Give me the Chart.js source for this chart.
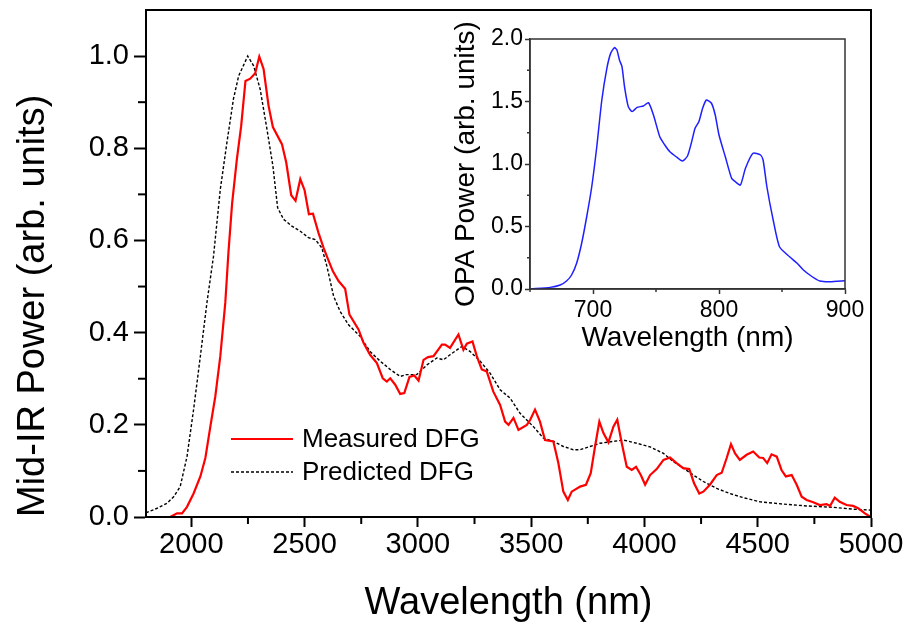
<!DOCTYPE html>
<html>
<head>
<meta charset="utf-8">
<script src="https://cdn.jsdelivr.net/npm/chart.js@4.4.0/dist/chart.umd.min.js"></script>
<style>
	body { margin: 0; background: #fff; }
	#wrap { position: relative; width: 909px; height: 625px; }
	#main { position: absolute; left: 0; top: 0; }
	#inset { position: absolute; left: 430px; top: 0; }
</style>
</head>
<body>
<div id="wrap">
	<canvas id="main" width="909" height="625"></canvas>
	<canvas id="inset" width="450" height="360"></canvas>
</div>
<script>
// measured DFG spectrum (red)
const measuredWl = [1907, 1937, 1959, 1981, 2010, 2040, 2062, 2084, 2106, 2128, 2150, 2164, 2180, 2201, 2220, 2239, 2260, 2282, 2300, 2319,
	2341, 2360, 2400, 2419, 2441, 2460, 2481, 2500, 2519, 2537, 2561, 2583, 2601, 2625, 2650, 2679, 2698, 2738, 2760, 2789,
	2819, 2845, 2863, 2878, 2900, 2922, 2940, 2963, 2984, 3003, 3025, 3045, 3069, 3106, 3120, 3142, 3179, 3201, 3216, 3241,
	3260, 3282, 3304, 3333, 3363, 3385, 3400, 3422, 3444, 3481, 3496, 3517, 3539, 3561, 3598, 3620, 3642, 3662, 3679, 3716,
	3742, 3763, 3782, 3801, 3819, 3841, 3863, 3880, 3900, 3922, 3944, 3963, 3984, 4003, 4025, 4054, 4084, 4113, 4142, 4171,
	4198, 4219, 4242, 4260, 4289, 4319, 4341, 4363, 4382, 4400, 4421, 4451, 4480, 4507, 4524, 4542, 4561, 4584, 4605, 4624,
	4650, 4672, 4694, 4716, 4745, 4774, 4804, 4819, 4840, 4862, 4892, 4921, 4943, 4973, 4995];
const measuredPower = [0.000, 0.008, 0.008, 0.022, 0.051, 0.088, 0.128, 0.196, 0.262, 0.349, 0.465, 0.575, 0.680, 0.776, 0.848, 0.946, 0.951, 0.963, 0.999, 0.972,
	0.892, 0.846, 0.809, 0.769, 0.698, 0.686, 0.733, 0.709, 0.657, 0.658, 0.617, 0.585, 0.562, 0.533, 0.512, 0.495, 0.439, 0.407, 0.378, 0.352,
	0.334, 0.301, 0.294, 0.301, 0.287, 0.267, 0.269, 0.304, 0.307, 0.296, 0.341, 0.347, 0.349, 0.374, 0.374, 0.367, 0.396, 0.363, 0.376, 0.381,
	0.349, 0.320, 0.316, 0.272, 0.243, 0.207, 0.200, 0.215, 0.189, 0.200, 0.211, 0.233, 0.207, 0.167, 0.164, 0.117, 0.055, 0.037, 0.055, 0.066,
	0.070, 0.095, 0.153, 0.207, 0.182, 0.162, 0.196, 0.211, 0.160, 0.109, 0.102, 0.109, 0.091, 0.070, 0.091, 0.104, 0.124, 0.129, 0.117, 0.106,
	0.104, 0.073, 0.051, 0.055, 0.070, 0.091, 0.096, 0.128, 0.158, 0.138, 0.124, 0.135, 0.142, 0.129, 0.128, 0.117, 0.136, 0.131, 0.102, 0.088,
	0.091, 0.070, 0.044, 0.037, 0.032, 0.026, 0.028, 0.024, 0.042, 0.033, 0.026, 0.024, 0.019, 0.008, 0.001];

// predicted DFG spectrum (black dashed)
const predictedWl = [1800, 1849, 1893, 1922, 1951, 1981, 2010, 2040, 2069, 2098, 2128, 2157, 2186, 2209, 2249, 2275, 2304, 2334, 2360, 2381,
	2407, 2444, 2481, 2517, 2547, 2576, 2598, 2628, 2657, 2694, 2745, 2789, 2834, 2878, 2922, 2951, 2995, 3040, 3084, 3113,
	3142, 3194, 3231, 3275, 3319, 3363, 3407, 3451, 3510, 3554, 3598, 3642, 3686, 3716, 3760, 3804, 3863, 3907, 3966, 4025,
	4084, 4128, 4172, 4216, 4260, 4319, 4377, 4436, 4510, 4613, 4716, 4833, 4921, 5000];
const predictedPower = [0.009, 0.019, 0.030, 0.044, 0.066, 0.131, 0.233, 0.349, 0.465, 0.566, 0.711, 0.812, 0.907, 0.957, 1.000, 0.979, 0.928, 0.841, 0.762, 0.671,
	0.646, 0.631, 0.620, 0.606, 0.602, 0.584, 0.545, 0.479, 0.446, 0.417, 0.392, 0.359, 0.338, 0.320, 0.305, 0.309, 0.309, 0.330, 0.345, 0.341,
	0.352, 0.370, 0.359, 0.338, 0.312, 0.276, 0.258, 0.225, 0.196, 0.171, 0.164, 0.153, 0.146, 0.146, 0.153, 0.160, 0.164, 0.167, 0.160, 0.152,
	0.138, 0.120, 0.106, 0.091, 0.077, 0.062, 0.051, 0.042, 0.033, 0.028, 0.024, 0.021, 0.017, 0.015];

// OPA spectrum (inset, blue)
const opaWl = [651, 666, 674, 679, 683, 687, 691, 695, 699, 703, 707, 711, 714, 717, 719, 721, 723, 725, 728, 731,
	735, 740, 744, 748, 753, 757, 761, 766, 771, 775, 778, 781, 784, 787, 790, 794, 797, 800, 805, 810,
	813, 817, 821, 827, 833, 835, 838, 843, 848, 856, 862, 867, 874, 880, 888, 900];
const opaPower = [0.002, 0.013, 0.032, 0.064, 0.112, 0.206, 0.366, 0.578, 0.818, 1.138, 1.512, 1.765, 1.885, 1.931, 1.912, 1.832, 1.779, 1.619, 1.459, 1.419,
	1.453, 1.464, 1.491, 1.392, 1.218, 1.152, 1.098, 1.058, 1.024, 1.064, 1.166, 1.286, 1.338, 1.446, 1.512, 1.486, 1.392, 1.232, 1.058, 0.886,
	0.858, 0.832, 0.966, 1.086, 1.072, 1.032, 0.818, 0.552, 0.338, 0.258, 0.206, 0.152, 0.098, 0.064, 0.058, 0.066];

// tick values (labelled majors and unlabelled minors)
const mainXMajor = [2000, 2500, 3000, 3500, 4000, 4500, 5000];
const mainXMinor = [2250, 2750, 3250, 3750, 4250, 4750];
const mainYMajor = [0, 0.2, 0.4, 0.6, 0.8, 1.0];
const mainYMinor = [0.1, 0.3, 0.5, 0.7, 0.9];
const insetXMajor = [700, 800, 900];
const insetXMinor = [650, 750, 850];
const insetYMajor = [0, 0.5, 1.0, 1.5, 2.0];
const insetYMinor = [0.25, 0.75, 1.25, 1.75];

const legendLabels = ['Measured DFG', 'Predicted DFG'];

const FONT = '"Liberation Sans", Arial, Helvetica, sans-serif';
const toPoints = (xs, ys) => xs.map((x, i) => ({x, y: ys[i]}));
const setTicks = list => scale => { scale.ticks = list.map(value => ({value})); };
const fixHeight = h => s => { s.height = h; s.paddingLeft = 0; s.paddingRight = 0; };
const fixWidth = w => s => { s.width = w; s.paddingTop = 0; s.paddingBottom = 0; };

// full box around the plot area
const framePlugin = (lineWidth, color) => ({
	id: 'frame',
	afterDraw: chart => {
		const {ctx, chartArea: a} = chart;
		ctx.save();
		ctx.strokeStyle = color;
		ctx.lineWidth = lineWidth;
		ctx.strokeRect(a.left, a.top, a.right - a.left, a.bottom - a.top);
		ctx.restore();
	}
});

// short unlabelled ticks between the major ones
const minorTicksPlugin = (rules, lineWidth, color) => ({
	id: 'minorTicks',
	afterDraw: chart => {
		const ctx = chart.ctx;
		ctx.save();
		ctx.strokeStyle = color;
		ctx.lineWidth = lineWidth;
		rules.forEach(rule => {
			const scale = chart.scales[rule.id];
			rule.values.forEach(v => {
				const p = scale.getPixelForValue(v);
				ctx.beginPath();
				if (scale.isHorizontal()) {
					ctx.moveTo(p, scale.top);
					ctx.lineTo(p, scale.top + rule.length);
				} else {
					ctx.moveTo(scale.right, p);
					ctx.lineTo(scale.right - rule.length, p);
				}
				ctx.stroke();
			});
		});
		ctx.restore();
	}
});

const legendPlugin = {
	id: 'insideLegend',
	afterDraw: chart => {
		const {ctx, chartArea: a} = chart;
		const x0 = a.left + 85, x1 = a.left + 147;
		const rows = [a.bottom - 78, a.bottom - 45];
		ctx.save();
		ctx.font = `26px ${FONT}`;
		ctx.textBaseline = 'middle';
		ctx.fillStyle = '#000';
		chart.data.datasets.forEach((ds, i) => {
			ctx.strokeStyle = ds.borderColor;
			ctx.lineWidth = ds.borderWidth;
			ctx.setLineDash(ds.borderDash || []);
			ctx.beginPath();
			ctx.moveTo(x0, rows[i]);
			ctx.lineTo(x1, rows[i]);
			ctx.stroke();
			ctx.setLineDash([]);
			ctx.fillText(legendLabels[i], x1 + 9, rows[i] + 1);
		});
		ctx.restore();
	}
};

new Chart(document.getElementById('main'), {
	type: 'line',
	data: {
		datasets: [{
			label: legendLabels[0],
			data: toPoints(measuredWl, measuredPower),
			borderColor: '#ff0000',
			borderWidth: 2.2,
			pointRadius: 0,
			tension: 0
		}, {
			label: legendLabels[1],
			data: toPoints(predictedWl, predictedPower),
			borderColor: '#000000',
			borderWidth: 1.4,
			borderDash: [3, 2],
			pointRadius: 0,
			tension: 0
		}]
	},
	options: {
		responsive: false,
		animation: false,
		layout: {padding: {top: 10, right: 38, left: 0, bottom: 0}},
		plugins: {legend: {display: false}, tooltip: {enabled: false}},
		scales: {
			x: {
				type: 'linear',
				min: 1800,
				max: 5000,
				afterBuildTicks: setTicks(mainXMajor),
				afterFit: fixHeight(108),
				border: {color: '#000', width: 2},
				grid: {drawOnChartArea: false, tickLength: 10, tickWidth: 2, tickColor: '#000'},
				ticks: {
					maxRotation: 0,
					autoSkip: false,
					padding: 1,
					color: '#000',
					font: {family: FONT, size: 29},
					callback: v => String(v)
				},
				title: {
					display: true,
					text: 'Wavelength (nm)',
					color: '#000',
					font: {family: FONT, size: 38, lineHeight: 1},
					padding: {top: 0, bottom: 2}
				}
			},
			y: {
				type: 'linear',
				min: 0,
				max: 1.1,
				afterBuildTicks: setTicks(mainYMajor),
				afterFit: fixWidth(146),
				border: {color: '#000', width: 2},
				grid: {drawOnChartArea: false, tickLength: 12, tickWidth: 2, tickColor: '#000'},
				ticks: {
					autoSkip: false,
					padding: 5,
					color: '#000',
					font: {family: FONT, size: 29},
					callback: v => v.toFixed(1)
				},
				title: {
					display: true,
					text: 'Mid-IR Power (arb. units)',
					align: 'start',
					color: '#000',
					font: {family: FONT, size: 38, lineHeight: 1},
					padding: {top: 15, bottom: 0}
				}
			}
		}
	},
	plugins: [
		framePlugin(2, '#000'),
		minorTicksPlugin([
			{id: 'x', length: 7, values: mainXMinor},
			{id: 'y', length: 8, values: mainYMinor}
		], 2, '#000'),
		legendPlugin
	]
});

new Chart(document.getElementById('inset'), {
	type: 'line',
	data: {
		datasets: [{
			data: toPoints(opaWl, opaPower),
			borderColor: '#1f1fff',
			borderWidth: 1.5,
			pointRadius: 0,
			tension: 0.2
		}]
	},
	options: {
		responsive: false,
		animation: false,
		layout: {padding: {top: 39, right: 35, left: 0, bottom: 0}},
		plugins: {legend: {display: false}, tooltip: {enabled: false}},
		scales: {
			x: {
				type: 'linear',
				min: 650,
				max: 900,
				afterBuildTicks: setTicks(insetXMajor),
				afterFit: fixHeight(71),
				border: {color: '#333', width: 1.5},
				grid: {drawOnChartArea: false, tickLength: 5, tickWidth: 1.5, tickColor: '#333'},
				ticks: {
					maxRotation: 0,
					autoSkip: false,
					padding: 3,
					color: '#000',
					font: {family: FONT, size: 23},
					callback: v => String(v)
				},
				title: {
					display: true,
					text: 'Wavelength (nm)',
					color: '#000',
					font: {family: FONT, size: 28, lineHeight: 1},
					padding: {top: 0, bottom: 8}
				}
			},
			y: {
				type: 'linear',
				min: 0,
				max: 2,
				afterBuildTicks: setTicks(insetYMajor),
				afterFit: fixWidth(100),
				border: {color: '#333', width: 1.5},
				grid: {drawOnChartArea: false, tickLength: 5, tickWidth: 1.5, tickColor: '#333'},
				ticks: {
					autoSkip: false,
					padding: 2,
					color: '#000',
					font: {family: FONT, size: 23},
					callback: v => v.toFixed(1)
				},
				title: {
					display: true,
					text: 'OPA Power (arb. units)',
					color: '#000',
					font: {family: FONT, size: 28, lineHeight: 1},
					padding: {top: 22, bottom: 0}
				}
			}
		}
	},
	plugins: [
		framePlugin(1.5, '#333'),
		minorTicksPlugin([
			{id: 'x', length: 3, values: insetXMinor},
			{id: 'y', length: 3, values: insetYMinor}
		], 1.5, '#333')
	]
});
</script>
</body>
</html>
